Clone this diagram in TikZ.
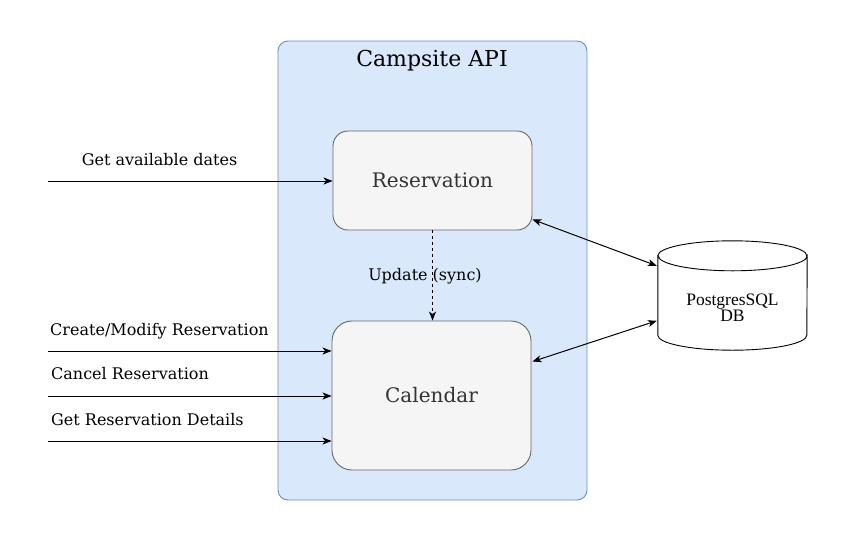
\documentclass[tikz,border=0pt]{standalone}
\usepackage{fontspec}
\setmainfont{DejaVu Serif}
\newfontfamily\dbfont{Liberation Serif}
\usetikzlibrary{arrows.meta,calc}
\definecolor{contfill}{HTML}{DAE8FC}
\definecolor{contdraw}{HTML}{6C8EBF}
\definecolor{boxfill}{HTML}{F5F5F5}
\definecolor{boxdraw}{HTML}{666666}
\definecolor{boxtext}{HTML}{333333}
\begin{document}
\begin{tikzpicture}[x=1pt,y=-1pt,
  container/.style={draw=contdraw, fill=contfill, rounded corners=10pt, line width=0.9pt, inner sep=0pt},
  compbox/.style={draw=boxdraw, fill=boxfill, text=boxtext, line width=0.9pt, inner sep=0pt, font=\fontsize{20}{23}\selectfont},
  lbl/.style={inner sep=0pt, font=\fontsize{16}{19}\selectfont},
  tip/.style={Stealth[length=9pt,width=7pt,inset=2.5pt]},
  conn/.style={line width=1pt, -{Stealth[length=9pt,width=7pt,inset=2.5pt]}},
  biconn/.style={line width=1pt, {Stealth[length=9pt,width=7pt,inset=2.5pt]}-{Stealth[length=9pt,width=7pt,inset=2.5pt]}},
]
\useasboundingbox (0,0) rectangle (848,541);

% container
\node[container, minimum width=309pt, minimum height=459pt] (api) at (432.5,270.5) {};
\node[inner sep=0pt, font=\fontsize{22}{25}\selectfont] (title) at (432,61) {Campsite API};

% components
\node[compbox, rounded corners=15pt, minimum width=199pt, minimum height=99pt] (res) at (432.5,180.5) {Reservation};
\node[compbox, rounded corners=20pt, minimum width=199pt, minimum height=149pt] (cal) at (431.5,395.5) {Calendar};

% database
\node[minimum width=149pt, minimum height=109pt, inner sep=0pt] (db) at (732.5,295.5) {};
\draw[line width=0.9pt, fill=white]
  ($(db.north west)+(0,15)$) -- ($(db.south west)+(0,-15)$)
  arc[x radius=74.5pt, y radius=15pt, start angle=180, end angle=360]
  -- ($(db.north east)+(0,15)$)
  arc[x radius=74.5pt, y radius=15pt, start angle=0, end angle=-180] -- cycle;
\draw[line width=0.9pt] ($(db.north west)+(0,15)$)
  arc[x radius=74.5pt, y radius=15pt, start angle=180, end angle=0];
\node[inner sep=0pt, align=center, font=\dbfont\fontsize{17.5}{16}\selectfont] (dbtext) at (732.5,308) {PostgresSQL\\DB};

% incoming requests
\coordinate (s1) at (48,181);
\coordinate (s2) at (48,351);
\coordinate (s3) at (48,396);
\coordinate (s4) at (48,441);
\draw[conn] (s1) -- (res.west |- s1);
\draw[conn] (s2) -- (cal.west |- s2);
\draw[conn] (s3) -- (cal.west |- s3);
\draw[conn] (s4) -- (cal.west |- s4);
\node[lbl] (l1) at (159.5,160) {Get available dates};
\node[lbl, anchor=west] (l2) at (50,331) {Create/Modify Reservation};
\node[lbl, anchor=west] (l3) at (51,374) {Cancel Reservation};
\node[lbl, anchor=west] (l4) at (51,420) {Get Reservation Details};

% sync
\draw[line width=0.9pt, dash pattern=on 3pt off 3pt, -{Stealth[length=9pt,width=7pt,inset=2.5pt]}] (res.south) -- (res.south |- cal.north);
\node[lbl] (ul) at (425,276) {Update (sync)};

% db links
\coordinate (r1) at ($(res.south east)+(0,-11)$);
\coordinate (d1) at ($(db.north west)+(-1,25)$);
\coordinate (c1) at ($(cal.north east)+(1,41)$);
\coordinate (d2) at ($(db.north west)+(-1,80)$);
\draw[biconn] (r1) -- (d1);
\draw[biconn] (c1) -- (d2);
\end{tikzpicture}
\end{document}
